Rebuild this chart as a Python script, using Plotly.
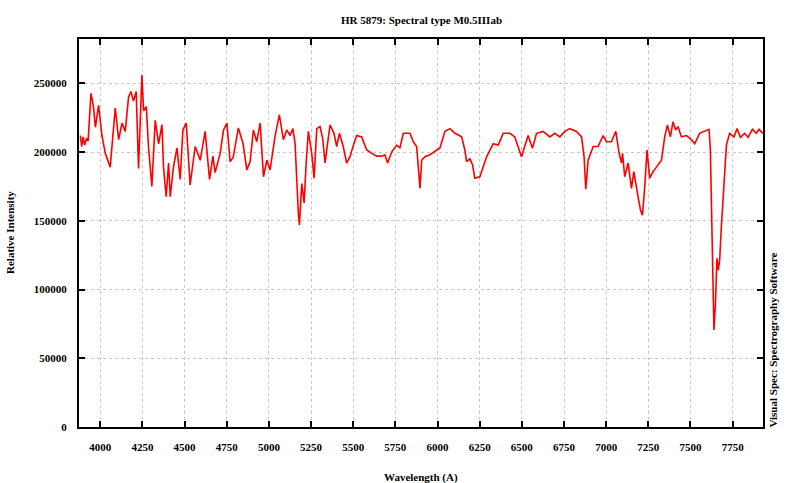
import plotly.graph_objects as go

wavelength = [3882, 3890, 3898, 3908, 3918, 3928, 3945, 3960, 3971, 3990, 4010, 4030, 4059, 4089,
              4109, 4129, 4148, 4168, 4182, 4197, 4213, 4227, 4247, 4257, 4273, 4286, 4306, 4326,
              4346, 4366, 4375, 4391, 4405, 4415, 4434, 4455, 4474, 4490, 4510, 4533, 4563, 4593,
              4622, 4648, 4668, 4681, 4711, 4731, 4751, 4770, 4788, 4819, 4847, 4869, 4889, 4908,
              4928, 4948, 4968, 4988, 5007, 5037, 5062, 5086, 5106, 5126, 5142, 5155, 5175, 5181,
              5195, 5209, 5221, 5234, 5254, 5268, 5284, 5303, 5319, 5333, 5353, 5363, 5386, 5402,
              5418, 5441, 5461, 5481, 5501, 5521, 5550, 5580, 5610, 5639, 5669, 5688, 5704, 5728,
              5758, 5777, 5797, 5837, 5856, 5876, 5886, 5896, 5906, 5925, 5955, 5995, 6014, 6044,
              6074, 6103, 6143, 6162, 6172, 6192, 6208, 6221, 6251, 6261, 6291, 6330, 6360, 6389,
              6429, 6458, 6498, 6537, 6563, 6587, 6626, 6666, 6695, 6725, 6755, 6784, 6824, 6854,
              6869, 6879, 6893, 6923, 6952, 6982, 7002, 7031, 7057, 7077, 7091, 7097, 7110, 7130,
              7150, 7164, 7180, 7189, 7203, 7215, 7229, 7242, 7258, 7278, 7298, 7328, 7347, 7363,
              7381, 7396, 7412, 7426, 7446, 7476, 7505, 7525, 7554, 7584, 7610, 7618, 7627, 7633,
              7639, 7648, 7657, 7665, 7673, 7683, 7697, 7713, 7732, 7758, 7776, 7796, 7821, 7841,
              7867, 7890, 7906, 7930]
intensity = [212000, 204000, 211000, 205000, 210000, 208000, 242700, 233000, 218000, 234000, 212000,
             199000, 189000, 232000, 209000, 221000, 215000, 240000, 244000, 237000, 244000, 188000,
             256000, 230000, 233000, 204000, 175000, 223000, 206000, 220000, 189000, 167500, 192000,
             167500, 189000, 203000, 180000, 216000, 221000, 176000, 204000, 194000, 215000, 180000,
             197000, 185000, 199000, 216000, 221000, 193000, 196000, 217500, 206000, 187000, 193000,
             216000, 207500, 221000, 182000, 194000, 187000, 212000, 227000, 209000, 216000, 212000,
             217000, 206500, 155000, 147000, 177000, 163000, 192000, 215000, 199000, 181000, 217000,
             218500, 210000, 192000, 211000, 219700, 213600, 204000, 213600, 204000, 192000, 196600,
             205000, 212000, 211000, 201500, 199000, 197000, 197000, 198000, 192000, 200000, 205000,
             203000, 213600, 213600, 207500, 204000, 189000, 173600, 194000, 196600, 198000, 201500,
             203000, 215000, 217000, 213600, 211000, 201500, 193000, 195000, 190600, 181000, 182000,
             185700, 196600, 206000, 205000, 213600, 213600, 211000, 196600, 212000, 202700, 213600,
             215000, 211000, 213600, 211000, 215000, 217000, 215000, 211000, 196600, 173000, 194000,
             204000, 204000, 212000, 207500, 207500, 215000, 199000, 192000, 199000, 182000, 192000,
             173600, 185700, 172000, 167500, 158000, 154000, 175000, 201500, 181000, 185700, 189000,
             194000, 211000, 219700, 211000, 222000, 216000, 218500, 211000, 212000, 209000, 206000,
             213600, 215000, 216500, 201500, 153000, 102000, 70500, 90000, 122700, 114000, 121500,
             145700, 177000, 205000, 213600, 211000, 217000, 210700, 213600, 210700, 216500, 213600,
             216500, 213600]

x_ticks = [4000, 4250, 4500, 4750, 5000, 5250, 5500, 5750, 6000, 6250, 6500, 6750, 7000, 7250, 7500, 7750]
y_ticks = [0, 50000, 100000, 150000, 200000, 250000]

title_text = "HR 5879: Spectral type M0.5IIIab"
x_title = "Wavelength (A)"
y_title = "Relative Intensity"
credit = "Visual Spec: Spectrography Software"

FONT = "Liberation Serif"

fig = go.Figure()
fig.add_trace(go.Scatter(x=wavelength, y=intensity, mode="lines",
                         line=dict(color="#ff0000", width=1.6), showlegend=False))

axis_common = dict(showline=True, linecolor="black", linewidth=2, mirror="ticks",
                   ticks="inside", ticklen=6, tickwidth=1.5, tickcolor="black",
                   showgrid=True, gridcolor="#c8c8c8", gridwidth=1, griddash="3px,3px",
                   zeroline=False, tickformat="d",
                   tickfont=dict(family=FONT, size=11, color="black", weight="bold"))

fig.update_xaxes(range=[3874, 7930], tickvals=x_ticks, ticklabelstandoff=9, **axis_common)
fig.update_yaxes(range=[0, 282200], tickvals=y_ticks, ticklabelstandoff=8, **axis_common)

fig.update_layout(
    width=800, height=483,
    margin=dict(l=79, r=37, t=39, b=56),
    paper_bgcolor="white", plot_bgcolor="white",
    font=dict(family=FONT, color="black"),
    annotations=[
        dict(text="<b>" + title_text + "</b>", xref="paper", yref="paper", x=0.5, y=1,
             yshift=19, xanchor="center", yanchor="middle", showarrow=False,
             font=dict(family=FONT, size=11, color="black")),
        dict(text="<b>" + x_title + "</b>", xref="paper", yref="paper", x=0.5, y=0,
             yshift=-50, xanchor="center", yanchor="middle", showarrow=False,
             font=dict(family=FONT, size=11, color="black")),
        dict(text="<b>" + y_title + "</b>", xref="paper", yref="paper", x=0, y=0.5,
             xshift=-69, xanchor="center", yanchor="middle", textangle=-90, showarrow=False,
             font=dict(family=FONT, size=11, color="black")),
        dict(text="<b>" + credit + "</b>", xref="paper", yref="paper", x=1, y=0,
             xshift=1, yshift=-3, xanchor="left", yanchor="bottom", textangle=-90, showarrow=False,
             font=dict(family=FONT, size=11, color="black")),
    ],
)

fig.write_html("out.html")
